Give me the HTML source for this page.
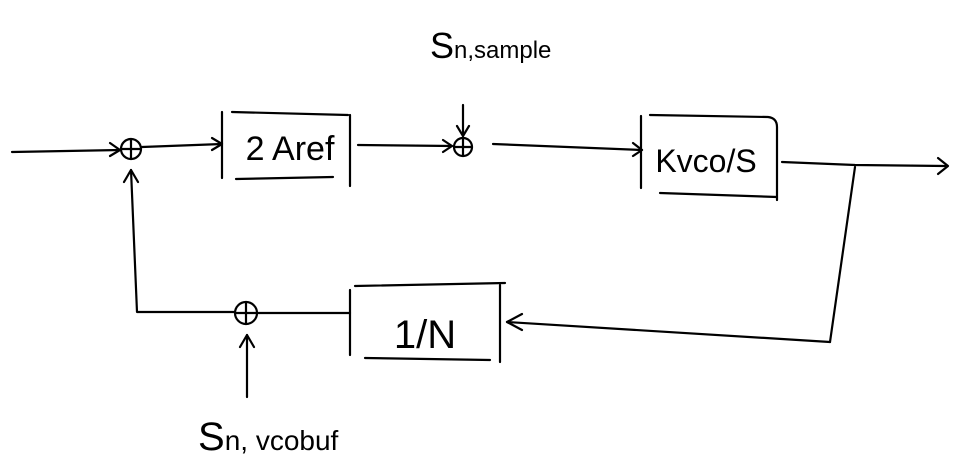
<!DOCTYPE html>
<html><head><style>body{margin:0;background:#fff;width:973px;height:475px;overflow:hidden}
svg{display:block}
text{font-family:"Liberation Sans",sans-serif;fill:#000}
</style></head><body>
<svg width="973" height="475" viewBox="0 0 973 475" fill="none" stroke="#000" stroke-width="2.2" stroke-linecap="round" stroke-linejoin="round">
<path d="M12 152 L120 150"/><path d="M110 143 L120 150 L110 156"/>
<circle cx="131" cy="149" r="10"/><path d="M121 149 H141 M131 139 V159"/>
<path d="M142 147 L222 144"/><path d="M212 138 L222 144 L212 150"/>
<path d="M222 112 V178 M232 112 L348 115 M350 115 V186 M236 179 L333 177"/>
<text x="290" y="160" font-size="34" text-anchor="middle" stroke="none">2 Aref</text>
<path d="M358 145 L452 146"/><path d="M443 140 L452 146 L443 152"/>
<circle cx="463" cy="147" r="9"/><path d="M454 147 H472 M463 138 V156"/>
<path d="M463 105 V136"/><path d="M457 126 L463 136 L469 126"/>
<text x="430" y="58" font-size="36" stroke="none">S<tspan font-size="24">n,sample</tspan></text>
<path d="M493 144 L642 150"/><path d="M633 143 L642 150 L633 156"/>
<path d="M641 116 V188 M650 115 L768 117 Q777 118 777 127 V200 M660 193 L777 197"/>
<text x="706" y="172" font-size="32" text-anchor="middle" stroke="none">Kvco/S</text>
<path d="M782 162 L855 165 L945 166"/><path d="M938 158 L948 166 L938 174"/>
<path d="M855 167 L830 342"/>
<path d="M830 342 L507 322"/><path d="M522 314 L507 322 L522 330"/>
<path d="M350 290 V355 M355 286 L505 283 M500 285 V362 M365 358 L490 360"/>
<text x="425" y="348" font-size="40" text-anchor="middle" stroke="none">1/N</text>
<path d="M350 313 L257 313"/>
<circle cx="246" cy="313" r="11"/><path d="M235 313 H257 M246 302 V324"/>
<path d="M235 312 L137 312 L131 170"/><path d="M124 182 L131 170 L138 182"/>
<path d="M247 397 V335"/><path d="M240 347 L247 335 L254 347"/>
<text x="198" y="450" font-size="40" stroke="none">S<tspan font-size="28">n, vcobuf</tspan></text>
</svg>
</body></html>
